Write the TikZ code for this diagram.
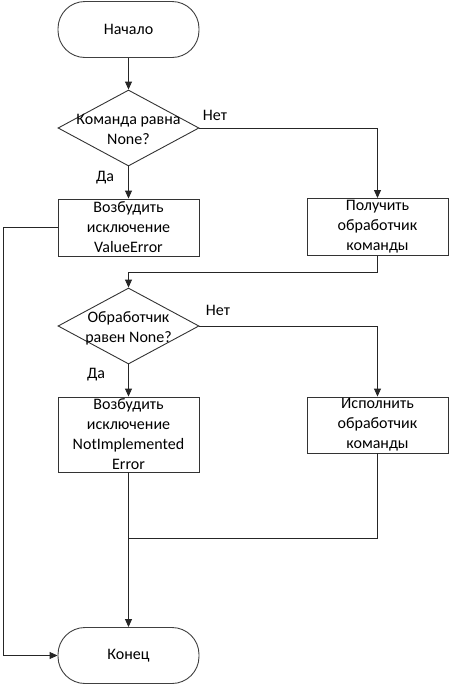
\documentclass[tikz,border=0pt]{standalone}
\usepackage{fontspec}
\setmainfont{Carlito}
\usetikzlibrary{arrows.meta,shapes.geometric}
\begin{document}
\begin{tikzpicture}[x=1pt,y=-1pt,
  font=\fontsize{16}{20}\selectfont,
  line/.style={draw=black!85,line width=0.9pt},
  arr/.style={line,-{Triangle[length=8pt,width=7pt]}},
  term/.style={draw=black!75,line width=0.9pt,rectangle,rounded corners=27pt,minimum width=141pt,minimum height=56pt,inner sep=0pt},
  proc/.style={draw=black!80,line width=0.9pt,rectangle,minimum width=141pt,inner sep=0pt,align=center},
  dia/.style={draw=black!80,line width=0.9pt,diamond,minimum width=141pt,minimum height=76pt,inner sep=0pt},
  txt/.style={align=center,inner sep=0pt},
  lbl/.style={inner sep=0pt}]
\useasboundingbox (0,0) rectangle (450,686);
\node[term] (start) at (128.5,29.5) {Начало};
\node[dia] (d1) at (128.5,128) {};
\node[txt] (d1t) at (128.5,129) {Команда равна\\None?};
\node[proc,minimum height=57pt] (b1) at (128.5,227.5) {Возбудить\\исключение\\ValueError};
\node[proc,minimum height=57pt] (b2) at (377.5,227) {Получить\\обработчик\\команды};
\node[dia] (d2) at (128.5,326) {};
\node[txt] (d2t) at (128.5,328) {Обработчик\\равен None?};
\node[proc,minimum height=75pt] (b3) at (128.5,434.5) {Возбудить\\исключение\\NotImplemented\\Error};
\node[proc,minimum height=56pt] (b4) at (377.5,425) {Исполнить\\обработчик\\команды};
\node[term] (end) at (128.5,655.5) {Конец};
\node[lbl] (n1) at (215,115) {Нет};
\node[lbl] (y1) at (105,178) {Да};
\node[lbl] (n2) at (218,310) {Нет};
\node[lbl] (y2) at (96,375) {Да};
\coordinate (m1) at (128.5,272);
\coordinate (m2) at (128.5,538);
\coordinate (lx) at (3,0);
\draw[arr] (start) -- (d1);
\draw[arr] (d1) -- (b1);
\draw[arr] (d1.east) -| (b2.north);
\draw[line] (b2.south) |- (m1);
\draw[arr] (m1) -- (d2.north);
\draw[arr] (d2) -- (b3);
\draw[arr] (d2.east) -| (b4.north);
\draw[arr] (b3.south) -- (end.north);
\draw[line] (b4.south) |- (m2);
\draw[arr] (b1.west) -| (lx |- end.west) -- (end.west);
\end{tikzpicture}
\end{document}
